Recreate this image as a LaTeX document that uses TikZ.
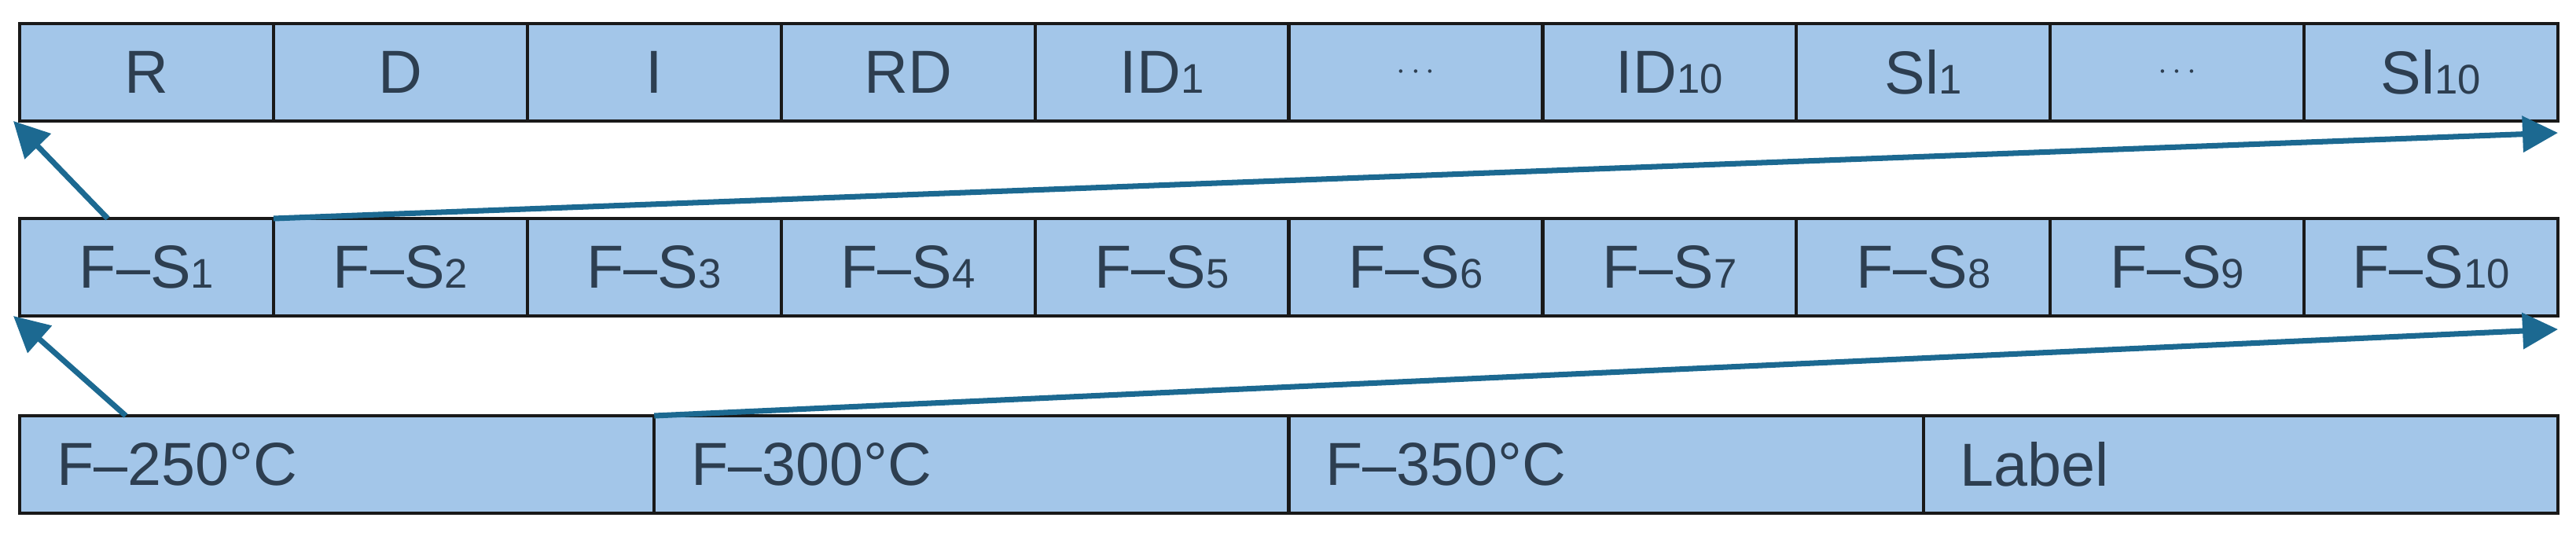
\documentclass[tikz,border=0pt]{standalone}
\usepackage{fontspec}
\setmainfont{Liberation Sans}
\usetikzlibrary{arrows.meta}
\definecolor{cellblue}{RGB}{163,198,233}
\definecolor{celltext}{RGB}{45,62,80}
\definecolor{arrowblue}{RGB}{28,105,145}
\newcommand{\idx}[1]{{\fontsize{15}{18}\selectfont #1}}
\newcommand{\dotsmid}{{\fontsize{12}{14}\selectfont$\cdots$}}
\tikzset{
  cell/.style={draw=black!90, fill=cellblue, line width=1.2pt, text=celltext,
    minimum width=3.229cm, minimum height=1.24cm, inner sep=0pt, outer sep=0pt,
    font=\fontsize{22}{26}\selectfont},
  widecell/.style={cell, minimum width=8.0725cm, text width=7.13cm, align=left},
  link/.style={draw=arrowblue, line width=2pt, -{Triangle[length=0.45cm,width=0.45cm]}}
}
\begin{document}
\begin{tikzpicture}
      \useasboundingbox (0,0) rectangle (32.77,-6.95);
      \draw
        (1.8645,-0.92) node[cell] (r1){R}
        (5.0935,-0.92) node[cell] (r2){D}
        (8.3225,-0.92) node[cell] (r3){I}
        (11.5515,-0.92) node[cell] (r4){RD}
        (14.7805,-0.92) node[cell] (r5){ID\idx{1}}
        (18.0095,-0.92) node[cell] (r6){\dotsmid}
        (21.2385,-0.92) node[cell] (r7){ID\idx{10}}
        (24.4675,-0.92) node[cell] (r8){Sl\idx{1}}
        (27.6965,-0.92) node[cell] (r9){\dotsmid}
        (30.9255,-0.92) node[cell] (r10){Sl\idx{10}};
      \draw
        (1.8645,-3.40) node[cell] (s1){F–S\idx{1}}
        (5.0935,-3.40) node[cell] (s2){F–S\idx{2}}
        (8.3225,-3.40) node[cell] (s3){F–S\idx{3}}
        (11.5515,-3.40) node[cell] (s4){F–S\idx{4}}
        (14.7805,-3.40) node[cell] (s5){F–S\idx{5}}
        (18.0095,-3.40) node[cell] (s6){F–S\idx{6}}
        (21.2385,-3.40) node[cell] (s7){F–S\idx{7}}
        (24.4675,-3.40) node[cell] (s8){F–S\idx{8}}
        (27.6965,-3.40) node[cell] (s9){F–S\idx{9}}
        (30.9255,-3.40) node[cell] (s10){F–S\idx{10}};
      \draw
        (4.28625,-5.91) node[widecell] (t1){F–250°C}
        (12.35875,-5.91) node[widecell] (t2){F–300°C}
        (20.43125,-5.91) node[widecell] (t3){F–350°C}
        (28.50375,-5.91) node[widecell] (t4){Label};
      \begin{scope}[link]
        \coordinate (s1up) at ([xshift=1.12cm]s1.north west);
        \coordinate (t1up) at ([xshift=1.35cm]t1.north west);
        \draw (s1up) to ([xshift=-0.08cm]r1.south west);
        \draw (t1up) to ([xshift=-0.08cm]s1.south west);
        \draw (s1.north east) to ([yshift=-0.15cm]r10.south east);
        \draw (t1.north east) to ([yshift=-0.17cm]s10.south east);
      \end{scope}
    \end{tikzpicture}
\end{document}
